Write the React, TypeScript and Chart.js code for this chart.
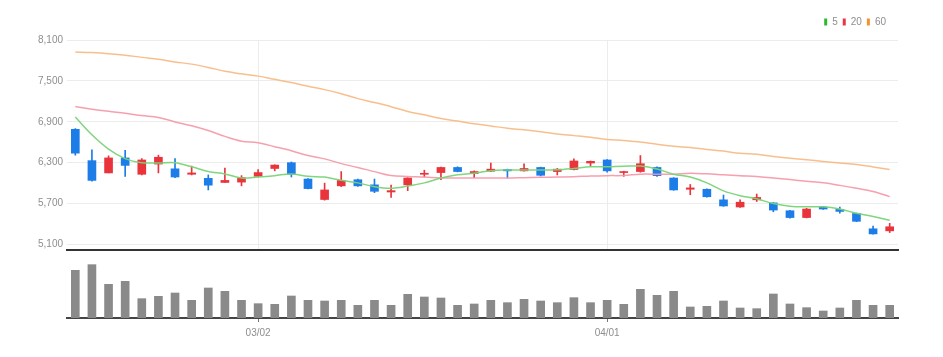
import React, { useEffect, useRef } from 'react';
import { Chart, registerables } from 'chart.js';

Chart.register(...registerables);

// ---- data ----
const dates = [
  '02/14', '02/15', '02/16', '02/17', '02/18', '02/21', '02/22', '02/23', '02/24', '02/25', '02/28',
  '03/02', '03/03', '03/04', '03/07', '03/08', '03/10', '03/11', '03/14', '03/15', '03/16', '03/17', '03/18',
  '03/21', '03/22', '03/23', '03/24', '03/25', '03/28', '03/29', '03/30', '03/31',
  '04/01', '04/04', '04/05', '04/06', '04/07', '04/08', '04/11', '04/12', '04/13', '04/14', '04/15',
  '04/18', '04/19', '04/20', '04/21', '04/22', '04/25', '04/26',
];

const opens = [
  6790, 6330, 6150, 6370, 6130, 6280, 6210, 6130, 6070, 6010, 6015,
  6100, 6215, 6300, 6060, 5760, 5960, 6050, 5975, 5870, 5975, 6130, 6155,
  6230, 6140, 6175, 6200, 6180, 6230, 6170, 6200, 6295,
  6340, 6155, 6170, 6230, 6075, 5910, 5910, 5755, 5650, 5755, 5710,
  5595, 5495, 5650, 5615, 5555, 5330, 5300,
];
const closes = [
  6440, 6040, 6370, 6260, 6340, 6380, 6090, 6150, 5970, 6040, 6080,
  6155, 6265, 6130, 5920, 5900, 6040, 5960, 5880, 5890, 6075, 6145, 6230,
  6170, 6170, 6205, 6180, 6215, 6115, 6205, 6325, 6320,
  6180, 6170, 6285, 6110, 5900, 5930, 5800, 5665, 5720, 5790, 5605,
  5495, 5620, 5620, 5585, 5440, 5255, 5360,
];
const highs = [
  6800, 6490, 6400, 6480, 6360, 6410, 6360, 6250, 6120, 6220, 6110,
  6200, 6270, 6310, 6065, 6000, 6170, 6060, 6060, 5970, 6080, 6190, 6235,
  6240, 6180, 6295, 6205, 6285, 6235, 6215, 6355, 6325,
  6345, 6175, 6405, 6240, 6080, 5980, 5915, 5825, 5755, 5840, 5715,
  5600, 5630, 5655, 5650, 5560, 5370, 5410,
];
const lows = [
  6410, 6030, 6150, 6100, 6120, 6150, 6080, 6120, 5900, 6010, 5960,
  6090, 6180, 6090, 5915, 5750, 5950, 5950, 5860, 5790, 5890, 6090, 6050,
  6165, 6080, 6170, 6075, 6175, 6105, 6120, 6195, 6250,
  6160, 6100, 6160, 6100, 5895, 5830, 5795, 5660, 5645, 5730, 5580,
  5485, 5490, 5615, 5560, 5435, 5250, 5275,
];

const ma5 = [
  6970, 6710, 6500, 6360, 6300, 6295, 6300, 6240, 6170, 6135, 6075,
  6090, 6110, 6135, 6100, 6089, 6042, 6004, 5948, 5925, 5957, 6004, 6075,
  6122, 6145, 6183, 6192, 6192, 6192, 6195, 6215, 6240,
  6240, 6249, 6250, 6207, 6131, 6089, 6004, 5887, 5816, 5770, 5700,
  5662, 5652, 5652, 5619, 5558, 5510, 5454,
];
const ma20 = [
  7123, 7085, 7053, 7025, 6991, 6963, 6898, 6841, 6771, 6686, 6616,
  6592, 6535, 6475, 6404, 6356, 6286, 6230, 6169, 6112, 6098, 6089, 6075,
  6075, 6075, 6075, 6075, 6080, 6085, 6090, 6095, 6105,
  6110, 6112, 6131, 6131, 6131, 6145, 6136, 6122, 6108, 6098, 6075,
  6052, 6028, 6004, 5967, 5925, 5877, 5802,
];
const ma60 = [
  7924, 7915, 7900, 7878, 7845, 7817, 7778, 7746, 7698, 7641, 7604,
  7570, 7523, 7476, 7420, 7372, 7311, 7240, 7183, 7122, 7051, 7003, 6947,
  6910, 6871, 6839, 6805, 6782, 6754, 6720, 6697, 6673,
  6640, 6626, 6602, 6570, 6541, 6522, 6493, 6470, 6437, 6423, 6390,
  6366, 6343, 6319, 6295, 6272, 6238, 6201,
];

const volumes = [
  143000, 160000, 101000, 110000, 58000, 65000, 75000, 53000, 90000, 80000, 53000,
  43000, 41000, 66000, 53000, 51000, 53000, 38000, 53000, 38000, 71000, 63000, 60000,
  38000, 42000, 53000, 46000, 56000, 51000, 46000, 61000, 46000,
  53000, 41000, 86000, 68000, 80000, 33000, 35000, 51000, 30000, 28000, 72000,
  42000, 31000, 21000, 30000, 53000, 38000, 38000,
];

const priceTicks = [5100, 5700, 6300, 6900, 7500, 8100];
const dateTicks = ['03/02', '04/01'];
const maLabels = ['5', '20', '60'];

// ---- styles ----
const FONT = "'Liberation Sans Narrow', 'Liberation Sans', 'DejaVu Sans', sans-serif";
const FONT_WEIGHT = 'condensed';
const RED = '#e9343c';
const BLUE = '#1c7ce8';
const LEGEND_COLORS = ['#2db82d', '#ee3344', '#f5922f'];
const LINE_COLORS = ['rgba(120, 212, 120, 0.95)', 'rgba(245, 150, 165, 0.9)', 'rgba(248, 188, 135, 0.95)'];
const TEXT = '#8e8e8e';

const condensedPlugin = {
  id: 'condensedText',
  beforeDraw: (chart: any) => {
    try {
      (chart.ctx as any).fontStretch = 'condensed';
    } catch (e) {
      /* ignore */
    }
  },
};

const legendShiftPlugin = {
  id: 'legendShift',
  afterLayout: (chart: any) => {
    const lg = chart.legend;
    if (lg) {
      lg.left -= 7;
      lg.right -= 7;
    }
  },
};

export default function App() {
  const priceRef = useRef<HTMLCanvasElement | null>(null);
  const volRef = useRef<HTMLCanvasElement | null>(null);

  useEffect(() => {
    const candleColors = closes.map((c, i) => (c >= opens[i] ? RED : BLUE));
    const maData = [ma5, ma20, ma60];
    const font = { family: FONT, size: 10, weight: FONT_WEIGHT };

    const priceChart = new Chart(priceRef.current as HTMLCanvasElement, {
      type: 'bar',
      plugins: [condensedPlugin, legendShiftPlugin],
      data: {
        labels: dates,
        datasets: [
          ...maData.map((d, k) => ({
            type: 'line' as const,
            label: maLabels[k],
            data: d,
            xAxisID: 'x',
            yAxisID: 'y',
            borderColor: LINE_COLORS[k],
            backgroundColor: LEGEND_COLORS[k],
            borderWidth: 1.5,
            pointRadius: 0,
            tension: 0.35,
            order: 0,
          })),
          {
            type: 'bar' as const,
            label: 'body',
            data: opens.map((o, i) => [o, closes[i]]),
            xAxisID: 'x',
            yAxisID: 'y',
            backgroundColor: candleColors,
            borderWidth: 0,
            barThickness: 8,
            grouped: false,
            order: 1,
          },
          {
            type: 'bar' as const,
            label: 'wick',
            data: lows.map((l, i) => [l, highs[i]]),
            xAxisID: 'x',
            yAxisID: 'y',
            backgroundColor: candleColors,
            borderWidth: 0,
            barThickness: 1,
            grouped: false,
            order: 2,
          },
        ],
      } as any,
      options: {
        responsive: false,
        animation: false,
        layout: { padding: { left: 0, right: 45, top: 12, bottom: 3 } },
        plugins: {
          tooltip: { enabled: false },
          legend: {
            display: true,
            position: 'top',
            align: 'end',
            labels: {
              boxWidth: 3,
              boxHeight: 7,
              padding: 5,
              font,
              color: TEXT,
              generateLabels: () =>
                maLabels.map((t, k) => ({
                  text: t,
                  fillStyle: LEGEND_COLORS[k],
                  strokeStyle: LEGEND_COLORS[k],
                  lineWidth: 0,
                  fontColor: TEXT,
                  hidden: false,
                  datasetIndex: k,
                })),
            },
          },
        },
        scales: {
          x: {
            type: 'category',
            position: 'bottom',
            offset: true,
            ticks: { display: false },
            grid: {
              offset: false,
              drawTicks: false,
              color: (ctx: any) =>
                dateTicks.includes(dates[ctx.index]) ? '#ececec' : 'rgba(0,0,0,0)',
            },
            border: { display: true, color: '#333333', width: 2 },
            afterFit: (s: any) => {
              s.height = 0;
            },
          },
          xTop: {
            type: 'linear',
            axis: 'x',
            position: 'top',
            display: true,
            ticks: { display: false },
            grid: { display: false },
            border: { display: false },
            afterFit: (s: any) => {
              s.height = 3;
            },
          },
          y: {
            type: 'linear',
            position: 'left',
            min: 5019,
            max: 8100,
            afterBuildTicks: (s: any) => {
              s.ticks = priceTicks.map((v) => ({ value: v }));
            },
            afterFit: (s: any) => {
              s.width = 67;
            },
            ticks: {
              color: TEXT,
              padding: 4,
              font,
              callback: (v: any) => Number(v).toLocaleString('en-US'),
            },
            grid: { color: '#ececec', drawTicks: false },
            border: { display: false },
          },
        },
      } as any,
    });

    const volChart = new Chart(volRef.current as HTMLCanvasElement, {
      type: 'bar',
      plugins: [condensedPlugin],
      data: {
        labels: dates,
        datasets: [
          {
            label: 'volume',
            data: volumes,
            backgroundColor: '#8a8a8a',
            borderWidth: 0,
            barThickness: 8,
          },
        ],
      },
      options: {
        responsive: false,
        animation: false,
        layout: { padding: { left: 67, right: 45, top: 2, bottom: 0 } },
        plugins: { legend: { display: false }, tooltip: { enabled: false } },
        scales: {
          x: {
            type: 'category',
            offset: true,
            ticks: {
              autoSkip: false,
              maxRotation: 0,
              minRotation: 0,
              padding: 5,
              color: TEXT,
              font,
              callback: (_v: any, i: number) => (dateTicks.includes(dates[i]) ? dates[i] : ''),
            },
            grid: {
              offset: false,
              drawOnChartArea: false,
              drawTicks: true,
              tickLength: 4,
              color: (ctx: any) =>
                dateTicks.includes(dates[ctx.index]) ? '#777777' : 'rgba(0,0,0,0)',
            },
            border: { display: true, color: '#444444', width: 2 },
            afterFit: (s: any) => {
              s.height = 39;
            },
          },
          y: {
            display: false,
            min: 0,
            max: 180000,
          },
        },
      } as any,
    });

    return () => {
      priceChart.destroy();
      volChart.destroy();
    };
  }, []);

  return (
    <div
      style={{
        position: 'fixed',
        left: 0,
        top: 0,
        width: 943,
        height: 357,
        background: '#ffffff',
        overflow: 'hidden',
      }}
    >
      <canvas
        ref={priceRef}
        width={943}
        height={260}
        style={{ position: 'absolute', left: 0, top: 0, display: 'block' }}
      />
      <canvas
        ref={volRef}
        width={943}
        height={101}
        style={{ position: 'absolute', left: 0, top: 256, display: 'block' }}
      />
    </div>
  );
}
